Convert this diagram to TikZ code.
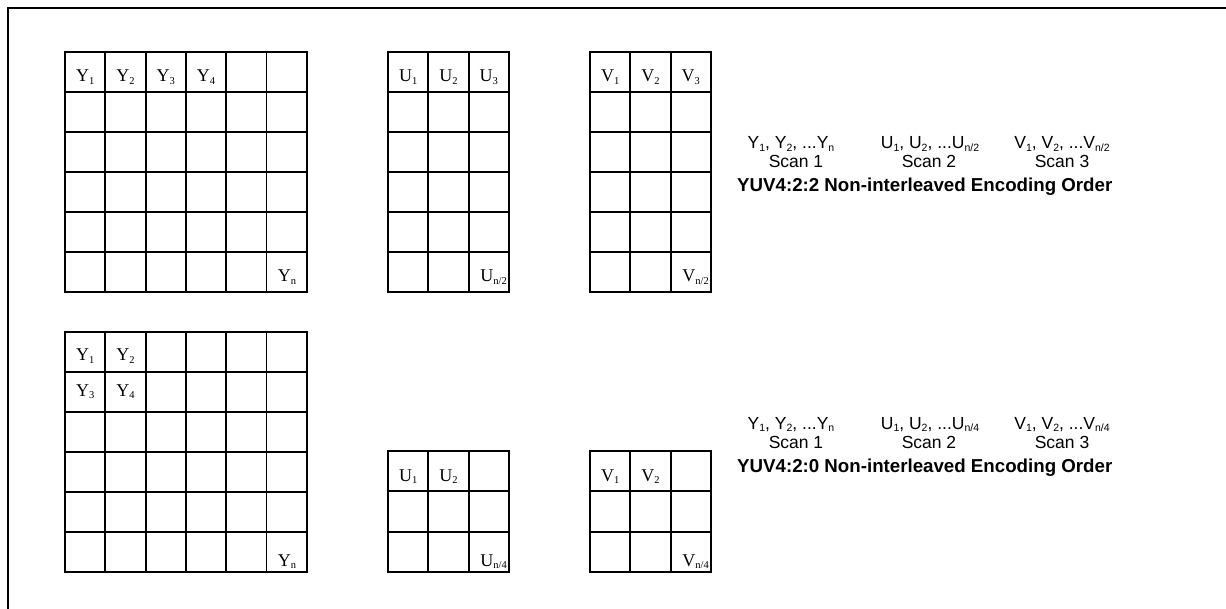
\documentclass[tikz,border=0pt]{standalone}
\usepackage{fontspec}
\setmainfont{Liberation Serif}
\newfontfamily\arialfont{Liberation Sans}
\newcommand{\smp}[2]{#1\raisebox{-0.3ex}{\fontsize{10.5}{11}\selectfont #2}}
\begin{document}
\begin{tikzpicture}[x=1pt,y=-1pt,
  gridline/.style={line width=1.8pt},
  celllabel/.style={font=\fontsize{18}{20}\selectfont,inner sep=0pt,anchor=base},
  cornerlabel/.style={font=\fontsize{18}{20}\selectfont,inner sep=0pt,anchor=base east},
  scanlabel/.style={font=\arialfont\fontsize{17.5}{19}\selectfont,inner sep=0pt,anchor=base},
  ordertitle/.style={font=\arialfont\bfseries\fontsize{18.7}{20}\selectfont,inner sep=0pt,anchor=base west}]
\useasboundingbox (0,0) rectangle (1226,609);
\clip (0,0) rectangle (1226,609);
\draw[line width=2.2pt] (8,8) rectangle (1250,630);
% sample grids: left/top/columns/rows/cell height
\foreach \gx/\gy/\nc/\nr/\ch in {65/52/6/6/40,388/52/3/6/40,590/52/3/6/40,65/332/6/6/40,388/451/3/3/40.3,590/451/3/3/40.3}
  \foreach \i in {1,...,\nc} \foreach \j in {1,...,\nr}
    \draw[gridline] ({\gx+(\i-1)*40.3},{\gy+(\j-1)*\ch}) rectangle ++(40.3,\ch);
% YUV4:2:2 samples
\foreach \k/\cx in {1/85.2,2/125.5,3/165.8,4/206.1} \node[celllabel] (y\k) at (\cx,82) {\smp{Y}{\k}};
\node[celllabel] (yn) at (287,282) {\smp{Y}{n}};
\foreach \k/\cx in {1/408.2,2/448.5,3/488.8} \node[celllabel] (u\k) at (\cx,82) {\smp{U}{\k}};
\node[cornerlabel] (uhalf) at (507,282) {\smp{U}{n/2}};
\foreach \k/\cx in {1/610.2,2/650.5,3/690.8} \node[celllabel] (v\k) at (\cx,82) {\smp{V}{\k}};
\node[cornerlabel] (vhalf) at (709,282) {\smp{V}{n/2}};
% YUV4:2:0 samples
\node[celllabel] (ya) at (85.2,361) {\smp{Y}{1}};
\node[celllabel] (yb) at (125.5,361) {\smp{Y}{2}};
\node[celllabel] (yc) at (85.2,396) {\smp{Y}{3}};
\node[celllabel] (yd) at (125.5,396) {\smp{Y}{4}};
\node[celllabel] (ym) at (287,566) {\smp{Y}{n}};
\node[celllabel] (ua) at (408.2,481) {\smp{U}{1}};
\node[celllabel] (ub) at (448.5,481) {\smp{U}{2}};
\node[cornerlabel] (uquart) at (507,566) {\smp{U}{n/4}};
\node[celllabel] (va) at (610.2,481) {\smp{V}{1}};
\node[celllabel] (vb) at (650.5,481) {\smp{V}{2}};
\node[cornerlabel] (vquart) at (709,566) {\smp{V}{n/4}};
% encoding orders
\node[scanlabel] (ys) at (791,149) {\smp{Y}{1}, \smp{Y}{2}, ...\smp{Y}{n}};
\node[scanlabel] (us) at (930,149) {\smp{U}{1}, \smp{U}{2}, ...\smp{U}{n/2}};
\node[scanlabel] (vs) at (1062,149) {\smp{V}{1}, \smp{V}{2}, ...\smp{V}{n/2}};
\foreach \k/\cx in {1/796,2/929,3/1062} \node[scanlabel] (sa\k) at (\cx,168) {Scan \k};
\node[ordertitle] (ta) at (737,192) {YUV4:2:2 Non-interleaved Encoding Order};
\node[scanlabel] (ys2) at (791,429) {\smp{Y}{1}, \smp{Y}{2}, ...\smp{Y}{n}};
\node[scanlabel] (us2) at (930,429) {\smp{U}{1}, \smp{U}{2}, ...\smp{U}{n/4}};
\node[scanlabel] (vs2) at (1062,429) {\smp{V}{1}, \smp{V}{2}, ...\smp{V}{n/4}};
\foreach \k/\cx in {1/796,2/929,3/1062} \node[scanlabel] (sb\k) at (\cx,448) {Scan \k};
\node[ordertitle] (tb) at (737,472) {YUV4:2:0 Non-interleaved Encoding Order};
\end{tikzpicture}
\end{document}
